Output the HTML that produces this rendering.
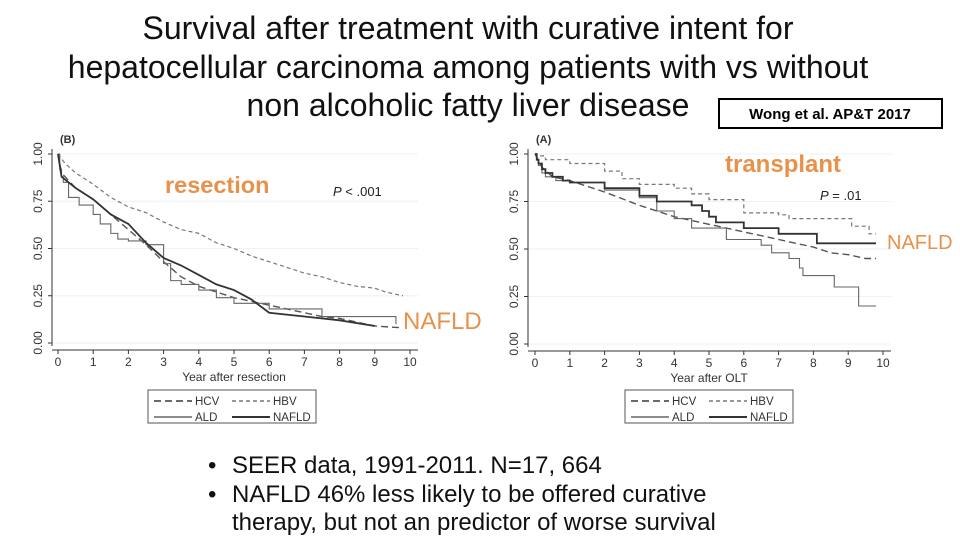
<!DOCTYPE html>
<html><head><meta charset="utf-8"><style>
body{margin:0;background:#fff;}
svg{display:block;font-family:"Liberation Sans",Arial,sans-serif;}
</style></head><body>
<svg id="s" width="960" height="540" viewBox="0 0 960 540" xmlns="http://www.w3.org/2000/svg">
<g font-size="32" fill="#111" text-anchor="middle">
<text x="468" y="39">Survival after treatment with curative intent for</text>
<text x="468" y="78">hepatocellular  carcinoma among patients with vs without</text>
<text x="468" y="116">non alcoholic fatty liver disease</text>
</g>
<g>
<rect x="719" y="99" width="223" height="29" fill="#fff" stroke="#000" stroke-width="2"/>
<text x="830" y="119" text-anchor="middle" font-size="15" font-weight="bold">Wong  et al.  AP&amp;T 2017</text>
</g>
<g id="left"></g>
<g id="right"></g>
<text x="165" y="193" font-size="23.5" font-weight="bold" fill="#e8914a">resection</text>
<text x="725" y="172" font-size="24" font-weight="bold" fill="#e8914a">transplant</text>
<text x="403" y="329" font-size="24" fill="#e8914a">NAFLD</text>
<text x="887" y="249" font-size="20" fill="#e8914a">NAFLD</text>
<text x="333" y="196" font-size="13" fill="#222"><tspan font-style="italic">P</tspan> &lt; .001</text>
<text x="820" y="200" font-size="13" fill="#222"><tspan font-style="italic">P</tspan> = .01</text>
<g font-size="24" fill="#111">
<text x="208" y="473">•</text><text x="232" y="473">SEER data, 1991-2011.  N=17, 664</text>
<text x="208" y="502">•</text><text x="232" y="502">NAFLD 46% less likely to be offered curative</text>
<text x="232" y="530">therapy, but  not an predictor of worse survival</text>
</g>
</svg>
<script>
const yTicks=[0,0.25,0.5,0.75,1];
const yTickLabels=["0.00","0.25","0.50","0.75","1.00"];
const xTicks=[0,1,2,3,4,5,6,7,8,9,10];
const seriesNames=["HCV","HBV","ALD","NAFLD"];
const resHBV=[[0,1],[0.2,0.95],[0.5,0.9],[1,0.84],[1.5,0.77],[2,0.72],[2.5,0.69],[3,0.64],[3.5,0.6],[4,0.58],[4.5,0.53],[5,0.5],[5.5,0.46],[6,0.43],[6.5,0.4],[7,0.37],[7.5,0.35],[8,0.32],[8.5,0.3],[9,0.29],[9.3,0.27],[9.8,0.25]];
const resHCV=[[0,1],[0.1,0.9],[0.5,0.82],[1,0.76],[1.5,0.68],[2,0.6],[2.5,0.52],[3,0.43],[3.5,0.35],[4,0.3],[4.5,0.27],[5,0.24],[5.5,0.22],[6,0.2],[6.5,0.18],[7,0.16],[7.5,0.14],[8,0.13],[8.5,0.11],[9,0.09],[9.8,0.08]];
const resALD=[[0,1],[0.05,0.92],[0.1,0.88],[0.15,0.85],[0.3,0.77],[0.6,0.73],[1,0.68],[1.2,0.63],[1.5,0.58],[1.7,0.55],[2,0.54],[2.5,0.52],[3,0.42],[3.2,0.33],[3.5,0.31],[4,0.28],[4.5,0.24],[5,0.21],[6,0.18],[7.5,0.14],[9.6,0.1]];
const resNAFLD=[[0,1],[0.1,0.88],[0.5,0.82],[1,0.76],[1.5,0.68],[2,0.63],[2.5,0.53],[3,0.45],[3.5,0.41],[4,0.36],[4.5,0.31],[5,0.28],[5.5,0.23],[6,0.16],[7,0.14],[8,0.12],[9,0.09]];
const oltHBV=[[0,1],[0.05,0.99],[0.3,0.97],[1,0.95],[2,0.91],[2.5,0.87],[3,0.84],[4,0.82],[4.5,0.79],[5,0.76],[6,0.69],[7,0.68],[7.3,0.66],[9.1,0.62],[9.6,0.58],[9.8,0.58]];
const oltHCV=[[0,1],[0.2,0.93],[0.5,0.88],[1,0.86],[2,0.8],[3,0.73],[4,0.67],[5,0.63],[6,0.59],[7,0.55],[8,0.51],[8.5,0.48],[9,0.47],[9.5,0.45],[9.8,0.45]];
const oltALD=[[0,1],[0.05,0.97],[0.1,0.94],[0.2,0.9],[0.3,0.88],[0.6,0.86],[1,0.85],[2,0.81],[3,0.77],[3.5,0.7],[4,0.66],[4.5,0.61],[5.5,0.55],[6.5,0.52],[6.8,0.48],[7.3,0.45],[7.6,0.4],[7.7,0.36],[8.6,0.3],[9.3,0.2],[9.8,0.2]];
const oltNAFLD=[[0,1],[0.05,0.97],[0.1,0.95],[0.2,0.92],[0.3,0.9],[0.5,0.88],[0.8,0.86],[1,0.85],[2,0.82],[3,0.78],[3.5,0.75],[4.5,0.73],[4.8,0.7],[5,0.67],[5.2,0.64],[6,0.61],[7,0.58],[8.1,0.53],[9.8,0.53]];
const NS="http://www.w3.org/2000/svg";
function mk(p,t,a){const e=document.createElementNS(NS,t);for(const k in a)e.setAttribute(k,a[k]);p.appendChild(e);return e;}
const styles={HCV:{c:"#555",w:1.4,d:"7,4"},HBV:{c:"#777",w:1.2,d:"4,3"},ALD:{c:"#666",w:1.1,d:""},NAFLD:{c:"#333",w:1.8,d:""}};
function chart(gid,cfg,data,stepMode,title,letter){
 const g=document.getElementById(gid);
 const X=v=>cfg.x0+(cfg.x1-cfg.x0)*v/10, Y=v=>cfg.y0-(cfg.y0-cfg.y1)*v;
 yTicks.forEach((t,i)=>{
  const gl=mk(g,"line",{x1:cfg.ax,x2:cfg.x1+8,y1:Y(t),y2:Y(t),stroke:"#eef2f4","stroke-width":1});
  
  
  mk(g,"line",{x1:cfg.ax-4,x2:cfg.ax,y1:Y(t),y2:Y(t),stroke:"#333"});
  const tx=mk(g,"text",{x:0,y:0,"font-size":12,"text-anchor":"middle",fill:"#333",transform:`translate(${cfg.ax-10},${Y(t)}) rotate(-90)`});
  tx.textContent=yTickLabels[i];
  
  
 });
 mk(g,"line",{x1:cfg.ax,x2:cfg.ax,y1:Y(1)-5,y2:Y(0)+3,stroke:"#333"});
 mk(g,"line",{x1:cfg.ax,x2:cfg.x1+8,y1:cfg.bx,y2:cfg.bx,stroke:"#333"});
 xTicks.forEach(t=>{
  mk(g,"line",{x1:X(t),x2:X(t),y1:cfg.bx,y2:cfg.bx+4,stroke:"#333"});
  const tx=mk(g,"text",{x:X(t),y:cfg.bx+16,"font-size":12,"text-anchor":"middle",fill:"#333"});
  tx.textContent=t;
  
  
 });
 const at=mk(g,"text",{x:(cfg.x0+cfg.x1)/2,y:cfg.bx+31,"font-size":12,"text-anchor":"middle",fill:"#333"});
 at.textContent=title;
 
 
 const lt=mk(g,"text",{x:cfg.ax+8,y:Y(1)-11,"font-size":11,"font-weight":"bold",fill:"#333"});
 lt.textContent=letter;
 
 
 seriesNames.forEach((n,i)=>{
  const pts=data[i];let d=`M${X(pts[0][0])},${Y(pts[0][1])}`;
  for(let k=1;k<pts.length;k++){
   if(stepMode[i]) d+=`H${X(pts[k][0])}V${Y(pts[k][1])}`;
   else d+=`L${X(pts[k][0])},${Y(pts[k][1])}`;
  }
  const p=mk(g,"path",{d:d,fill:"none",stroke:styles[n].c,"stroke-width":styles[n].w,"stroke-dasharray":styles[n].d});
  
  
 });
 const lg=mk(g,"g",{});
 
 
 mk(lg,"rect",{x:cfg.lx,y:390,width:168,height:33,fill:"#fff",stroke:"#555"});
 const pos=[[0,0],[1,0],[0,1],[1,1]];
 seriesNames.forEach((n,i)=>{
  const bx=cfg.lx+6+pos[i][0]*78, by=399+pos[i][1]*16;
  mk(lg,"line",{x1:bx,x2:bx+38,y1:by+2,y2:by+2,stroke:styles[n].c,"stroke-width":styles[n].w+0.3,"stroke-dasharray":styles[n].d});
  const t=mk(lg,"text",{x:bx+41,y:by+6,"font-size":11.5,fill:"#333"});
  t.textContent=n;
  
  
 });
}
chart("left",{x0:58,x1:410,y0:343,y1:154,ax:52,bx:350,lx:148},[resHCV,resHBV,resALD,resNAFLD],[false,false,true,false],"Year after resection","(B)");
chart("right",{x0:535,x1:883,y0:344,y1:154,ax:528,bx:351,lx:625},[oltHCV,oltHBV,oltALD,oltNAFLD],[false,true,true,true],"Year after OLT","(A)");
</script>
</body></html>
